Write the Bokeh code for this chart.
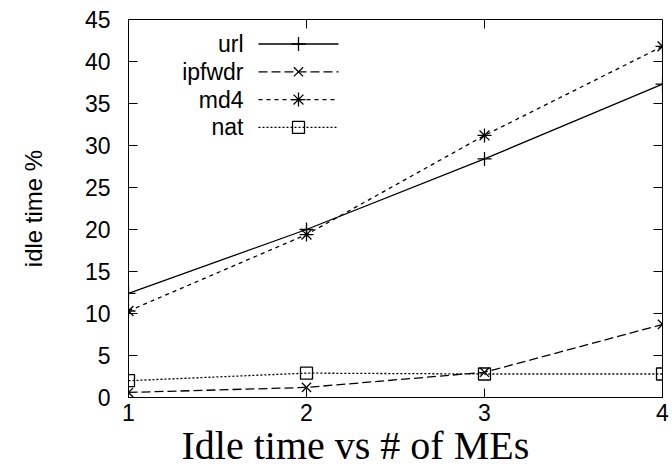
from bokeh.plotting import figure
from bokeh.models import Range1d, LinearAxis, FixedTicker, Title
from bokeh.core.properties import value
from bokeh.embed import file_html
from bokeh.resources import INLINE

# ---- data ----
mes = [1, 2, 3, 4]
url = [12.4, 20.0, 28.4, 37.3]
ipfwdr = [0.6, 1.2, 3.0, 8.7]
md4 = [10.3, 19.4, 31.2, 41.8]
nat = [2.0, 2.9, 2.8, 2.8]
series_names = ["url", "ipfwdr", "md4", "nat"]
x_ticks = [1, 2, 3, 4]
y_ticks = [0, 5, 10, 15, 20, 25, 30, 35, 40, 45]

# ---- layout ----
W, H = 672, 474
LEFT, RIGHT, TOP, BOTTOM = 128, 10, 19, 77
FW, FH = W - LEFT - RIGHT, H - TOP - BOTTOM
X0, X1, Y0, Y1 = 1, 4, 0, 45
TICK = 9

p = figure(width=W, height=H, output_backend="svg", toolbar_location=None,
           x_range=Range1d(X0, X1), y_range=Range1d(Y0, Y1),
           min_border_left=LEFT, min_border_right=RIGHT,
           min_border_top=TOP, min_border_bottom=BOTTOM,
           x_axis_type=None, y_axis_type=None)
p.xgrid.visible = False
p.ygrid.visible = False
p.outline_line_color = "black"
p.outline_line_width = 1
p.background_fill_color = "white"
p.border_fill_color = "white"

FONT = "Liberation Sans"
TSIZE = "23px"

def style_axis(ax):
    ax.axis_line_color = "black"
    ax.major_tick_in = TICK
    ax.major_tick_out = 0
    ax.minor_tick_line_color = None
    ax.major_tick_line_color = "black"
    ax.major_label_text_font = FONT
    ax.major_label_text_color = "black"
    ax.major_label_text_font_size = TSIZE

xb = LinearAxis(ticker=FixedTicker(ticks=x_ticks))
style_axis(xb)
xb.major_label_standoff = 6
p.add_layout(xb, "below")

yl = LinearAxis(ticker=FixedTicker(ticks=y_ticks))
style_axis(yl)
yl.major_label_standoff = 18
yl.axis_label = "idle time %"
yl.axis_label_text_font = FONT
yl.axis_label_text_font_size = "24px"
yl.axis_label_text_font_style = "normal"
yl.axis_label_text_color = "black"
yl.axis_label_standoff = 35
p.add_layout(yl, "left")

# chart title below the axis
p.add_layout(Title(text="Idle time vs # of MEs", align="left", offset=53,
                   text_font="Liberation Serif", text_font_size="40px",
                   text_font_style="normal", text_color="black", standoff=-5),
             "below")

# ---- pixel <-> data helpers for layout ----
def dx(px):
    return X0 + (px - LEFT) * (X1 - X0) / FW

def dy(py):
    return Y1 - (py - TOP) * (Y1 - Y0) / FH

tick_dx = TICK * (X1 - X0) / FW
tick_dy = TICK * (Y1 - Y0) / FH

# mirrored ticks on the right and top borders (gnuplot style)
p.segment(x0=[X1] * len(y_ticks), y0=y_ticks, x1=[X1 - tick_dx] * len(y_ticks), y1=y_ticks,
          line_color="black", line_width=1)
p.segment(x0=x_ticks, y0=[Y1] * len(x_ticks), x1=x_ticks, y1=[Y1 - tick_dy] * len(x_ticks),
          line_color="black", line_width=1)

LW = 1.3
styles = {
    "url": dict(dash="solid", marker="cross", size=14),
    "ipfwdr": dict(dash="9 4", marker="x", size=13),
    "md4": dict(dash="4 4", marker="asterisk", size=14),
    "nat": dict(dash="2 2", marker="square", size=12),
}
values = {"url": url, "ipfwdr": ipfwdr, "md4": md4, "nat": nat}

for name in series_names:
    st = styles[name]
    p.line(mes, values[name], line_color="black", line_width=LW, line_dash=st["dash"])
    p.scatter(mes, values[name], marker=st["marker"], size=st["size"],
              line_color="black", fill_color=None, line_width=LW)

# ---- legend ----
row0, row_gap = 43.5, 27.8
text_right, line_l, line_r = 243, 258, 338
for i, name in enumerate(series_names):
    st = styles[name]
    yy = dy(row0 + i * row_gap)
    p.text([dx(text_right)], [yy], text=[name], text_align="right", text_baseline="middle",
           text_font=value(FONT), text_font_size=TSIZE, text_color="black")
    p.line([dx(line_l), dx(line_r)], [yy, yy], line_color="black", line_width=LW,
           line_dash=st["dash"])
    p.scatter([dx((line_l + line_r) / 2)], [yy], marker=st["marker"], size=st["size"],
              line_color="black", fill_color=None, line_width=LW)

open("out.html", "w").write(file_html(p, INLINE))
